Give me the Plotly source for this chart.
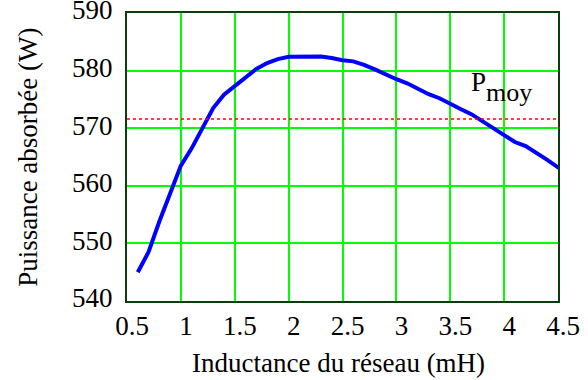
import plotly.graph_objects as go

# Inductance du réseau (mH) et puissance absorbée (W)
inductance = [0.6, 0.7, 0.8, 0.9, 1.0, 1.1, 1.2, 1.3, 1.4, 1.5,
              1.6, 1.7, 1.8, 1.9, 2.0, 2.1, 2.2, 2.3, 2.4, 2.5,
              2.6, 2.7, 2.8, 2.9, 3.0, 3.1, 3.2, 3.3, 3.4, 3.5,
              3.6, 3.7, 3.8, 3.9, 4.0, 4.1, 4.2, 4.3, 4.4, 4.5, 4.6]
puissance = [545.0, 548.5, 553.8, 558.8, 563.5, 566.5, 570.0, 573.5, 575.8, 577.3,
             578.9, 580.3, 581.3, 582.0, 582.4, 582.45, 582.45, 582.45, 582.2, 581.8,
             581.6, 581.0, 580.2, 579.3, 578.5, 577.8, 576.8, 575.9, 575.2, 574.2,
             573.3, 572.4, 571.2, 569.9, 568.7, 567.6, 566.9, 565.8, 564.5, 563.2, 562.0]
p_moy = 571.6

x_ticks = [0.5, 1, 1.5, 2, 2.5, 3, 3.5, 4, 4.5]
y_ticks = [540, 550, 560, 570, 580, 590]

serif = "Liberation Serif, Times New Roman, serif"

fig = go.Figure()
fig.add_trace(go.Scatter(x=inductance, y=puissance, mode="lines",
                         line=dict(color="#0000ff", width=4)))

# ligne de puissance moyenne
fig.add_shape(type="line", xref="paper", x0=0, x1=1, y0=p_moy, y1=p_moy,
              line=dict(color="#ff0000", width=1.5, dash="dot"))

fig.add_annotation(x=3.67, y=578.0, text="P", showarrow=False,
                   xanchor="left", yanchor="middle",
                   font=dict(family=serif, size=27, color="black"))
fig.add_annotation(x=3.81, y=576.2, text="moy", showarrow=False,
                   xanchor="left", yanchor="middle",
                   font=dict(family=serif, size=26, color="black"))

# titres des axes
fig.add_annotation(xref="paper", yref="paper", x=-0.23, y=0.5, xanchor="center",
                   text="Puissance absorbée (W)", textangle=-90, showarrow=False,
                   font=dict(family=serif, size=27, color="black"))
fig.add_annotation(xref="paper", yref="paper", x=0.49, y=-0.217,
                   xanchor="center", yanchor="middle",
                   text="Inductance du réseau (mH)", showarrow=False,
                   font=dict(family=serif, size=27, color="black"))

axis_common = dict(showgrid=True, gridcolor="#00ff00", gridwidth=1.5,
                   showline=True, linecolor="#0b3d0b", linewidth=2, mirror=True,
                   zeroline=False, ticks="", automargin=False,
                   ticklabeloverflow="allow",
                   tickfont=dict(family=serif, size=27, color="black"))

fig.update_layout(
    width=588, height=380,
    margin=dict(l=127, r=30, t=13, b=79),
    plot_bgcolor="white", paper_bgcolor="white",
    showlegend=False,
    xaxis=dict(range=[0.5, 4.5], tickvals=x_ticks,
               ticktext=[f"{v:g}" for v in x_ticks],
               ticklabelstandoff=0, ticklabelshift=5, **axis_common),
    yaxis=dict(range=[540, 590], tickvals=y_ticks,
               ticklabelstandoff=7, ticklabelshift=-3, **axis_common),
)

# sans la marge de 8 px que le navigateur met autour de la page
fig.write_html("out.html", config={"displayModeBar": False},
               post_script="document.body.style.margin = '0';")
